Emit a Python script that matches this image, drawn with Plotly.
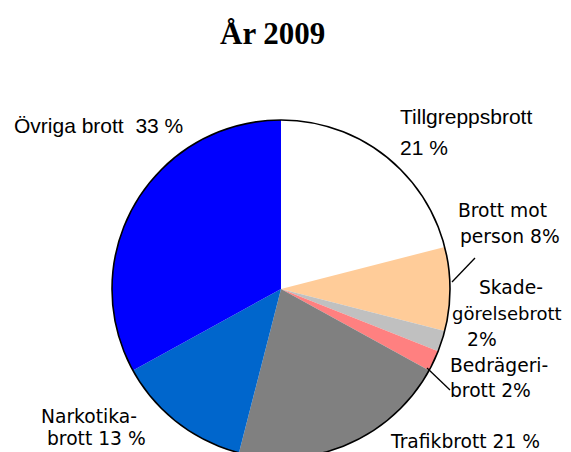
import plotly.graph_objects as go

# page body adds an 8px margin; figure is drawn from (8, 8) of the window
OFF = 8
W, H = 571, 460

# ---- data ----
categories = ["Tillgreppsbrott", "Brott mot person", "Skadegörelsebrott",
              "Bedrägeribrott", "Trafikbrott", "Narkotikabrott", "Övriga brott"]
values = [21, 8, 2, 2, 21, 13, 33]
colors = ["#FFFFFF", "#FFCC99", "#C0C0C0", "#FF8080", "#808080", "#0066CC", "#0000FF"]
title_text = "År 2009"

# label text lines per category (as printed in the chart)
label_lines = {
    "Tillgreppsbrott": ["Tillgreppsbrott", f"{values[0]} %"],
    "Brott mot person": ["Brott mot", f"person {values[1]}%"],
    "Skadegörelsebrott": ["Skade-", "görelsebrott", f"{values[2]}%"],
    "Bedrägeribrott": ["Bedrägeri-", f"brott {values[3]}%"],
    "Trafikbrott": [f"Trafikbrott {values[4]} %"],
    "Narkotikabrott": ["Narkotika-", f"brott {values[5]} %"],
    "Övriga brott": [f"Övriga brott\u00a0 {values[6]} %"],
}

# ---- layout (window pixel positions of the label lines: left x, baseline y, size) ----
ARIAL = "Liberation Sans, Arial, sans-serif"
VERD = "DejaVu Sans, Verdana, sans-serif"
label_layout = {
    "Tillgreppsbrott": ([(398, 124, 21), (398, 155, 21)], ARIAL),
    "Brott mot person": ([(456, 217, 18.7), (458, 243, 18.7)], VERD),
    "Skadegörelsebrott": ([(477, 294, 18.7), (450, 320, 18.0), (465, 346, 18.7)], VERD),
    "Bedrägeribrott": ([(448, 372, 18.7), (448, 397, 18.7)], VERD),
    "Trafikbrott": ([(388, 448, 18.7)], VERD),
    "Narkotikabrott": ([(39, 423, 18.7), (45, 445, 18.7)], VERD),
    "Övriga brott": ([(12, 133, 21)], ARIAL),
}
leader_lines = [((452, 282), (475, 258)), ((427, 368), (450, 390))]

cx, cy, r = 281, 289, 169  # window pixels


def px(x):
    return (x - OFF) / W


def py(y):
    return 1 - (y - OFF) / H


dom_x = [px(cx - r), px(cx + r)]
dom_y = [py(cy + r), py(cy - r)]

fig = go.Figure()
fig.add_trace(go.Pie(
    labels=categories, values=values, sort=False, direction="clockwise",
    rotation=0, marker=dict(colors=colors, line=dict(width=0)),
    textinfo="none", hoverinfo="label+percent", showlegend=False,
    domain=dict(x=dom_x, y=dom_y),
))
# outer outline
fig.add_trace(go.Pie(
    values=[1], sort=False,
    marker=dict(colors=["rgba(0,0,0,0)"], line=dict(color="black", width=1.6)),
    textinfo="none", hoverinfo="skip", showlegend=False,
    domain=dict(x=dom_x, y=dom_y),
))

annotations = []
for cat in categories:
    pos, fam = label_layout[cat]
    for text, (x, base, size) in zip(label_lines[cat], pos):
        annotations.append(dict(
            text=text, x=px(x), y=py(base - 0.34 * size), xref="paper", yref="paper",
            xanchor="left", yanchor="middle", showarrow=False,
            font=dict(family=fam, size=size, color="black"),
        ))
annotations.append(dict(
    text=f"<b>{title_text}</b>", x=px(272), y=py(33), xref="paper", yref="paper",
    xanchor="center", yanchor="middle", showarrow=False,
    font=dict(family="Liberation Serif, Times New Roman, serif", size=31, color="black"),
))

shapes = [dict(type="line", xref="paper", yref="paper", x0=px(a[0]), y0=py(a[1]),
               x1=px(b[0]), y1=py(b[1]), line=dict(color="black", width=1.3))
          for a, b in leader_lines]

fig.update_layout(
    width=W, height=H, margin=dict(l=0, r=0, t=0, b=0),
    paper_bgcolor="white", plot_bgcolor="white",
    annotations=annotations, shapes=shapes,
)
fig.write_html("out.html")
